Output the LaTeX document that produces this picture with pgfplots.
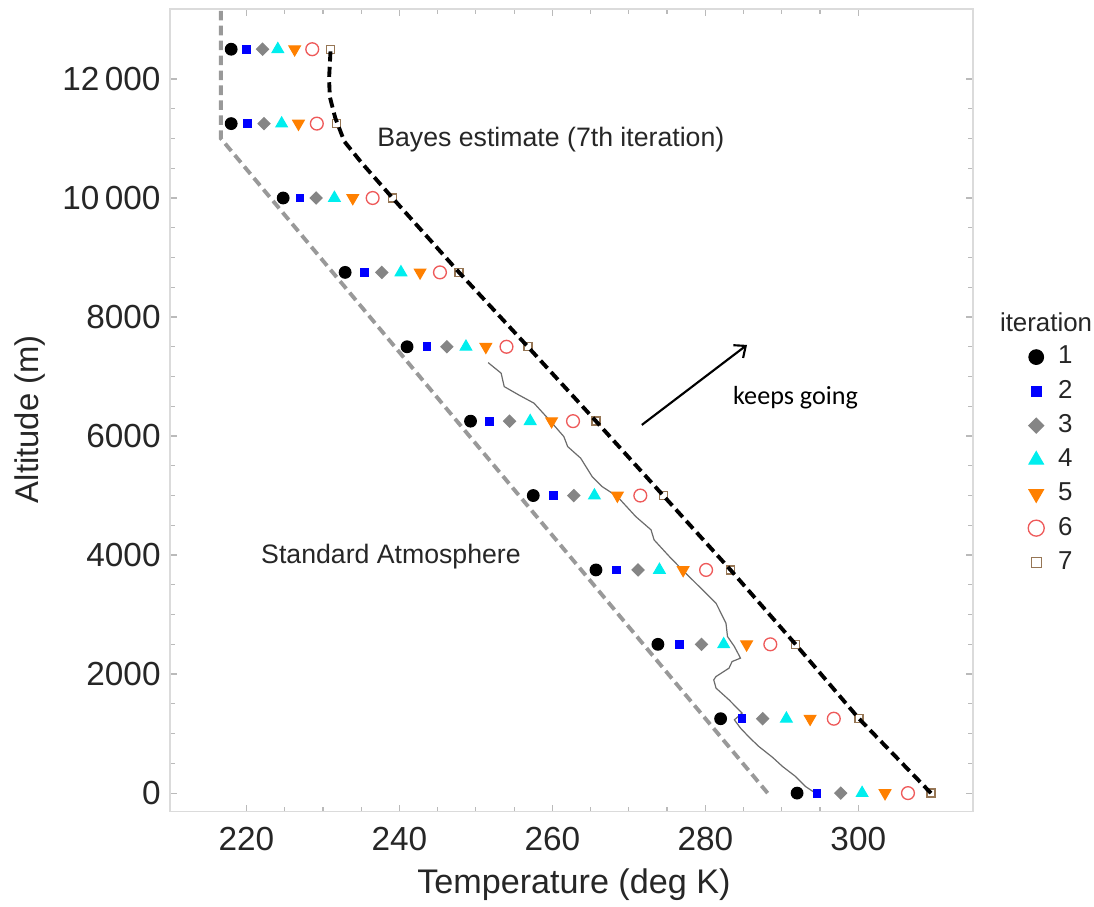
\documentclass[border=0pt]{standalone}
\usepackage{pgfplots}
\pgfplotsset{compat=1.18}
\usepackage{pgfplotstable}
\usepackage{fontspec}
\setmainfont{Liberation Sans}
\newfontfamily\calib{Carlito}
\usetikzlibrary{arrows.meta}
\definecolor{cStd}{gray}{0.6}
\definecolor{cSnd}{gray}{0.42}
\definecolor{cOrange}{RGB}{255,128,0}
\definecolor{cRed}{RGB}{238,90,90}
\definecolor{cBrown}{RGB}{150,118,85}
\definecolor{cGray}{gray}{0.52}
\definecolor{cCyan}{RGB}{0,238,238}
\definecolor{cFrame}{gray}{0.86}
\definecolor{cTxt}{gray}{0.15}
\pgfplotsset{mleg/.style={legend image code/.code={\draw[##1, every mark/.append style={scale=1.25}] plot coordinates {(0cm,0cm)};\path (-0.1cm,0cm) (0.21cm,0cm);}}}

\pgfplotstableread{
alt   it1   it2   it3   it4   it5   it6   it7
0     292.0 294.6 297.7 300.5 303.5 306.5 309.5
1250  282.0 284.8 287.5 290.6 293.7 296.8 300.1
2500  273.8 276.6 279.5 282.4 285.4 288.5 291.8
3750  265.7 268.4 271.2 274.0 277.1 280.1 283.3
5000  257.5 260.1 262.8 265.5 268.5 271.5 274.5
6250  249.3 251.8 254.4 257.1 259.9 262.7 265.7
7500  241.0 243.6 246.2 248.7 251.3 254.0 256.8
8750  232.9 235.4 237.7 240.2 242.7 245.3 247.8
10000 224.8 227.0 229.1 231.5 233.9 236.5 239.1
11250 218.0 220.1 222.3 224.6 226.8 229.2 231.8
12500 218.0 220.05 222.1 224.1 226.3 228.6 231.0
}\iters

\pgfplotstableread{
t      alt
309.5  0
300.1  1250
291.8  2500
283.3  3750
274.5  5000
265.7  6250
256.8  7500
247.8  8750
239.1  10000
235.0  10600
232.8  10950
231.6  11350
230.9  11700
230.8  12000
231.0  12500
}\bayes

\pgfplotstableread{
t      alt
294.2  17
293.1  111
291.8  279
290.1  447
288.8  600
287.0  783
285.8  930
284.6  1092
283.8  1231
284.8  1344
283.1  1567
281.4  1764
281.1  1903
281.4  1959
283.1  2100
283.5  2211
284.6  2268
283.8  2463
282.9  2631
282.7  2856
281.4  3191
279.2  3471
277.0  3751
275.3  3975
273.3  4255
272.9  4424
270.9  4647
268.5  4983
266.5  5151
265.2  5319
263.7  5628
262.0  5823
261.5  5991
259.6  6271
257.6  6552
255.6  6691
253.7  6831
253.3  7056
251.6  7234
}\sounding

\begin{document}
\begin{tikzpicture}
\begin{axis}[
  scale only axis, width=301pt, height=300.7pt,
  xmin=210, xmax=315, ymin=-309, ymax=13171,
  clip mode=individual,
  xtick={220,240,...,300}, ytick={0,2000,...,12000},
  scaled ticks=false,
  minor x tick num=3, minor y tick num=3,
  tick align=inside, major tick length=2.6pt, minor tick length=1.7pt,
  axis line style={draw=cFrame, line width=0.6pt},
  tick style={draw=cFrame!85!black, line width=0.45pt},
  tick label style={font=\fontsize{12.5}{14}\selectfont, text=cTxt},
  /pgf/number format/assume math mode=true,
  /pgf/number format/1000 sep={\,},
  /pgf/number format/min exponent for 1000 sep=4,
  xticklabel style={yshift=-2.5pt},
  xlabel={Temperature (deg K)}, ylabel={Altitude (m)},
  label style={font=\fontsize{12.8}{15}\selectfont, text=cTxt},
  xlabel style={at={(axis description cs:0.503,-0.0913)}, anchor=center},
  ylabel style={at={(axis description cs:-0.174,0.489)}, anchor=center, font=\fontsize{12.3}{15}\selectfont},
  legend style={at={(axis description cs:1.058,0.594)}, anchor=north west,
    draw=none, fill=none, font=\fontsize{9.7}{11}\selectfont, text=cTxt,
    row sep=0.6pt, legend cell align=left},
]
% standard atmosphere
\addplot[cStd, line width=1.45pt, dash pattern=on 3.6pt off 2pt, forget plot] coordinates {(288.15,0) (216.65,11000) (216.65,13171)};
% sounding
\addplot[cSnd, line width=0.45pt, forget plot] table[x=t, y=alt] {\sounding};
% iterations
\addplot[only marks, mark=*, black, mark size=2.2pt, mleg] table[x=it1, y=alt] {\iters};
\addlegendentry{1}
\addplot[only marks, mark=square*, blue, mark size=1.45pt, mleg] table[x=it2, y=alt] {\iters};
\addlegendentry{2}
\addplot[only marks, mark=square*, cGray, mark size=1.6pt, mark options={rotate=45}, mleg] table[x=it3, y=alt] {\iters};
\addlegendentry{3}
\addplot[only marks, mark=triangle*, cCyan, mark size=2.5pt, mleg] table[x=it4, y=alt] {\iters};
\addlegendentry{4}
\addplot[only marks, mark=triangle*, cOrange, mark size=2.5pt, mark options={rotate=180}, mleg] table[x=it5, y=alt] {\iters};
\addlegendentry{5}
\addplot[only marks, mark=o, cRed, mark size=2.4pt, mark options={line width=0.5pt}, mleg] table[x=it6, y=alt] {\iters};
\addlegendentry{6}
\addplot[only marks, mark=square, cBrown, mark size=1.5pt, mark options={line width=0.5pt, fill=white}, mleg] table[x=it7, y=alt] {\iters};
\addlegendentry{7}
% Bayes estimate
\addplot[black, line width=1.45pt, dash pattern=on 3.8pt off 2pt, forget plot] table[x=t, y=alt] {\bayes};

\node[font=\fontsize{10}{12}\selectfont, text=cTxt] at (axis cs:259.8,10975) {Bayes estimate (7th iteration)};
\node[font=\fontsize{10}{12}\selectfont, text=cTxt] at (axis cs:238.9,3970) {Standard Atmosphere};
\node[font=\calib\fontsize{9.8}{12}\selectfont] at (axis cs:291.8,6640) {keeps going};
\draw[-{Straight Barb[length=3.5pt,width=6pt]}, line width=0.8pt] (axis cs:271.7,6187) -- (axis cs:285.45,7531);
\node[font=\fontsize{9.7}{11}\selectfont, text=cTxt] at (axis description cs:1.091,0.610) {iteration};
\coordinate (BL) at (axis description cs:-0.2117,-0.1188);
\coordinate (TR) at (axis description cs:1.1507,1.0116);
\end{axis}
\pgfresetboundingbox
\path (BL) rectangle (TR);
\end{tikzpicture}
\end{document}
